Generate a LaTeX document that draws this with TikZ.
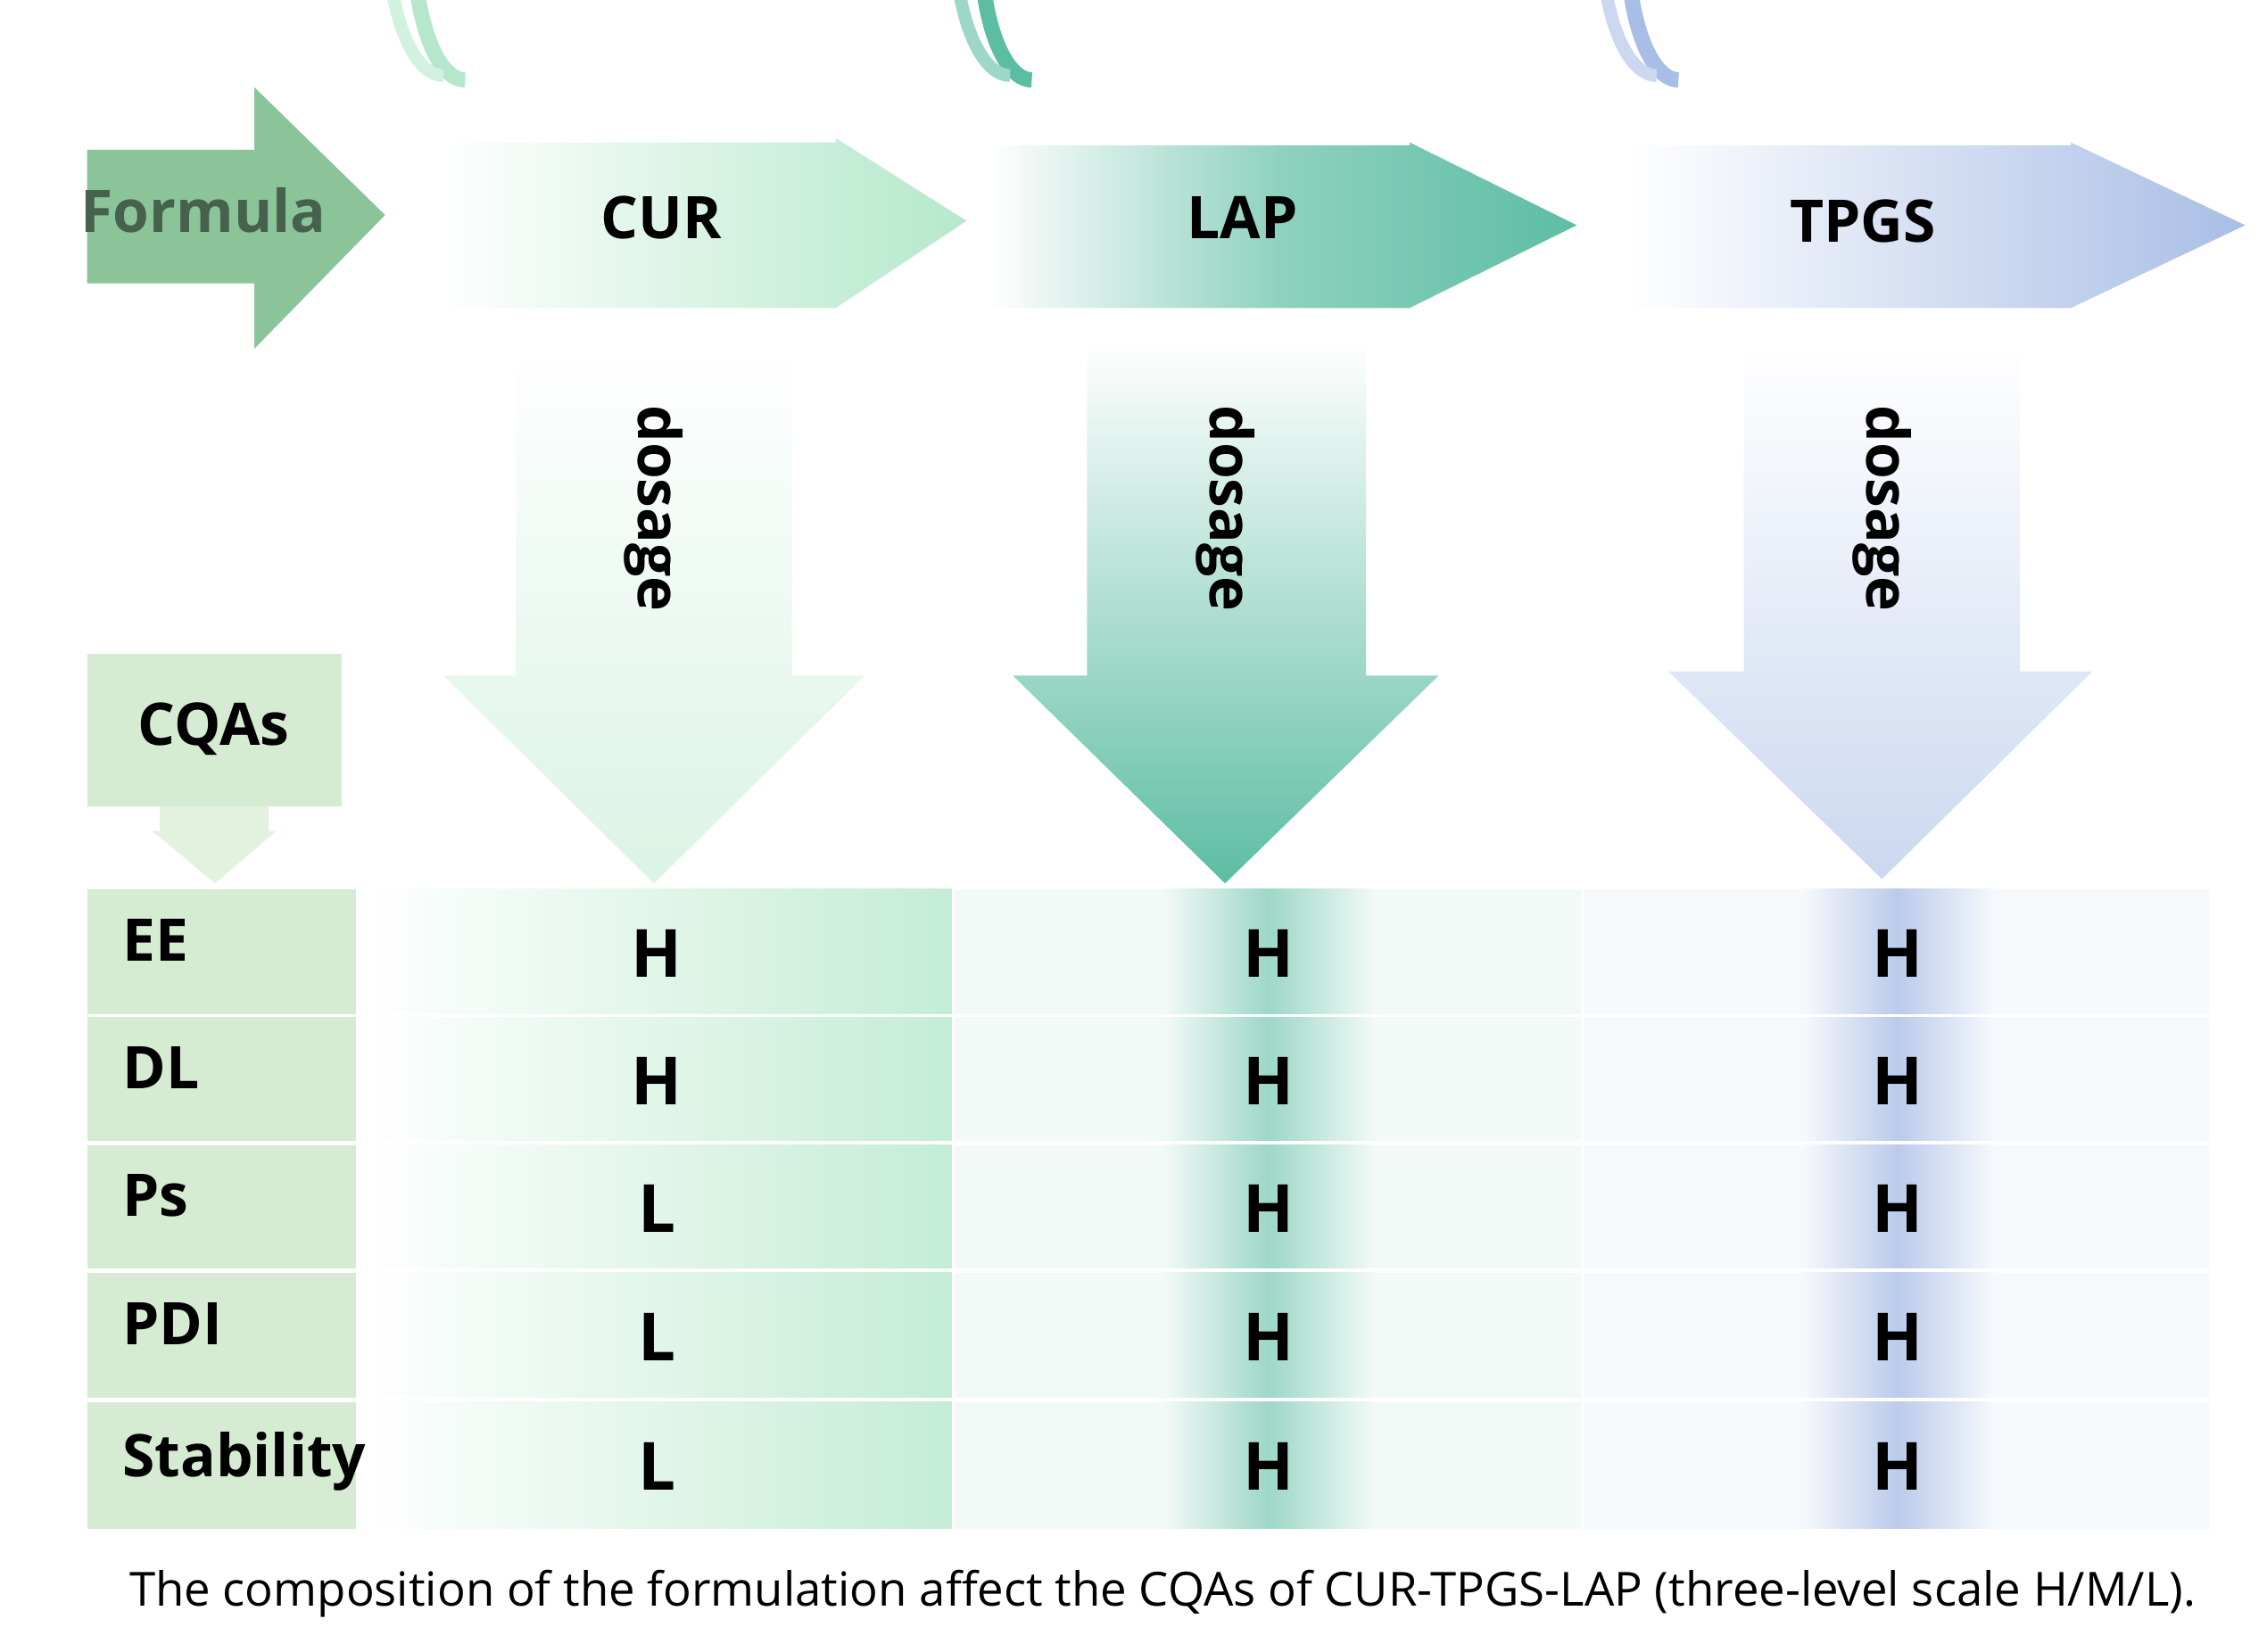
\documentclass[tikz,border=0pt]{standalone}
\usepackage{fontspec}
\setmainfont{Open Sans}
\begin{document}
\begin{tikzpicture}[x=0.01cm,y=-0.01cm,
  lbl/.style={font=\bfseries\fontsize{11.5}{13}\selectfont},
  cell/.style={font=\bfseries\fontsize{13}{15}\selectfont},
  rowl/.style={font=\bfseries\fontsize{11.5}{13}\selectfont,anchor=north west}]
\definecolor{fgreen}{HTML}{8CC49A}
\definecolor{cgreen}{HTML}{B5E8CB}
\definecolor{lteal}{HTML}{5DBDA3}
\definecolor{tblue}{HTML}{A9BEE6}
\definecolor{rowg}{HTML}{D5ECD2}
\useasboundingbox (0,0) rectangle (1560,1137);
% top arrows
\fill[fgreen] (60,103) -- (175,103) -- (175,60) -- (265,148) -- (175,240) -- (175,195) -- (60,195) -- cycle;
\shade[left color=white,right color=cgreen] (300,98) -- (575,98) -- (575,95) -- (665,152) -- (575,212) -- (300,212) -- cycle;
\shade[left color=white,right color=lteal,middle color=lteal!70] (680,100) -- (970,100) -- (970,98) -- (1085,155) -- (970,212) -- (680,212) -- cycle;
\shade[left color=white,right color=tblue] (1120,100) -- (1425,100) -- (1425,98) -- (1545,155) -- (1425,212) -- (1120,212) -- cycle;
% rings (left arcs)
\foreach \x/\c in {300/cgreen,690/lteal,1135/tblue}{
  \draw[\c,line width=3pt] (\x+20,55) arc (90:270:35 and 93);
  \draw[\c!60,line width=2.5pt] (\x+5,52) arc (90:270:38 and 96);
}
\node[lbl,text=fgreen!50!black] (formula) at (140,145) {Formula};
\node[lbl] (cur) at (455,150) {CUR};
\node[lbl] (lap) at (855,150) {LAP};
\node[lbl] (tpgs) at (1282,152) {TPGS};
% down arrows
\shade[top color=white,bottom color=cgreen!50] (355,235) -- (545,235) -- (545,465) -- (595,465) -- (450,608) -- (305,465) -- (355,465) -- cycle;
\shade[top color=white,bottom color=lteal] (748,235) -- (940,235) -- (940,465) -- (990,465) -- (843,608) -- (697,465) -- (748,465) -- cycle;
\shade[top color=white,bottom color=tblue!60] (1200,235) -- (1390,235) -- (1390,462) -- (1440,462) -- (1295,605) -- (1148,462) -- (1200,462) -- cycle;
\foreach \x/\n in {450/d1,843/d2,1295/d3}
  \node[lbl,rotate=-90] (\n) at (\x,350) {dosage};
% CQAs
\fill[rowg] (60,450) rectangle (235,555);
\fill[rowg!70] (110,555) -- (185,555) -- (185,572) -- (190,572) -- (148,608) -- (105,572) -- (110,572) -- cycle;
\node[lbl] (cqas) at (147,502) {CQAs};
% table
\foreach \y/\h/\n/\a/\b/\c in {612/86/EE/H/H/H, 700/85/DL/H/H/H, 788/85/Ps/L/H/H, 876/86/PDI/L/H/H, 965/87/Stability/L/H/H}{
  \fill[rowg] (60,\y) rectangle (245,\y+\h);
  \shade[left color=white,right color=cgreen!80] (247,\y) rectangle (655,\y+\h);
  \fill[lteal!8] (657,\y) rectangle (1088,\y+\h);
  \shade[left color=lteal!8,right color=lteal!8,middle color=lteal!60] (800,\y) rectangle (946,\y+\h);
  \fill[tblue!10] (1090,\y) rectangle (1520,\y+\h);
  \shade[left color=tblue!10,right color=tblue!10,middle color=tblue!80] (1240,\y) rectangle (1372,\y+\h);
  \node[rowl] at (72,\y+8) {\n};
  \node[cell] at (452,\y+44) {\a};
  \node[cell] at (873,\y+44) {\b};
  \node[cell] at (1306,\y+44) {\c};
}
\node[font=\fontsize{9.2}{11}\selectfont] (cap) at (800,1097) {The composition of the formulation affect the CQAs of CUR-TPGS-LAP (three-level scale H/M/L).};
\end{tikzpicture}
\end{document}
